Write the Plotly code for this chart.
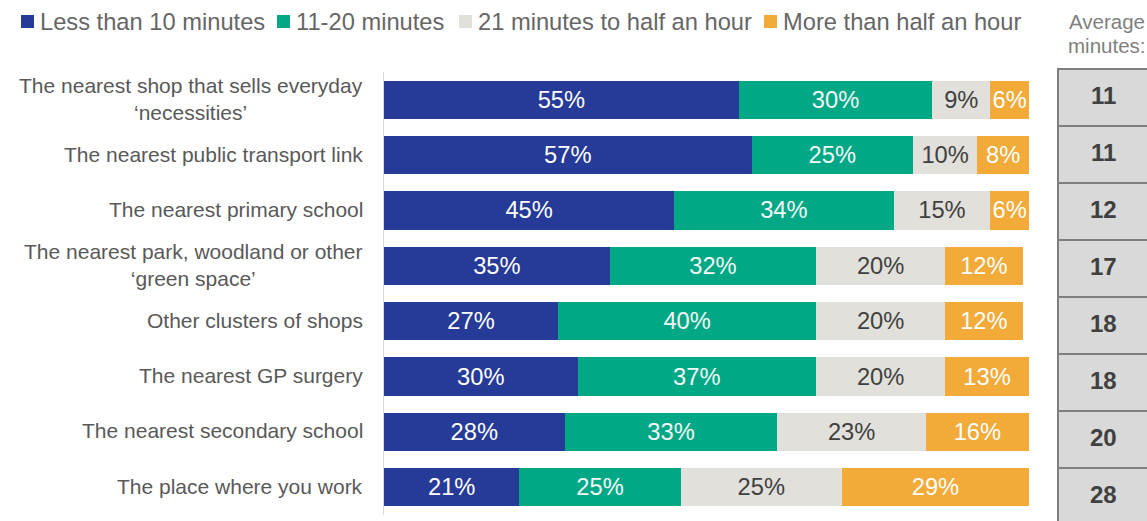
import plotly.graph_objects as go

# Destinations (top to bottom)
categories = [
    "The nearest shop that sells everyday<br>‘necessities’",
    "The nearest public transport link",
    "The nearest primary school",
    "The nearest park, woodland or other<br>‘green space’",
    "Other clusters of shops",
    "The nearest GP surgery",
    "The nearest secondary school",
    "The place where you work",
]

series_names = [
    "Less than 10 minutes",
    "11-20 minutes",
    "21 minutes to half an hour",
    "More than half an hour",
]

less_than_10 = [55, 57, 45, 35, 27, 30, 28, 21]
min_11_20 = [30, 25, 34, 32, 40, 37, 33, 25]
min_21_30 = [9, 10, 15, 20, 20, 20, 23, 25]
more_than_30 = [6, 8, 6, 12, 12, 13, 16, 29]

average_minutes = [11, 11, 12, 17, 18, 18, 20, 28]

series_values = [less_than_10, min_11_20, min_21_30, more_than_30]
colors = ["#263a97", "#00a886", "#e1e0da", "#f2aa38"]
text_colors = ["#ffffff", "#f4f8f7", "#404040", "#ffffff"]

FONT = "Liberation Sans, Arial"
W, H = 1147, 521
M_L, M_R, M_T, M_B = 384, 118, 72, 6
PLOT_W = W - M_L - M_R
PLOT_H = H - M_T - M_B


def px_x(px):
    return (px - M_L) / PLOT_W


def px_y(py):
    return (H - M_B - py) / PLOT_H


fig = go.Figure()
for name, vals, col, tcol in zip(series_names, series_values, colors, text_colors):
    fig.add_trace(go.Bar(
        y=categories,
        x=vals,
        name=name,
        orientation="h",
        marker=dict(color=col, line=dict(width=0)),
        text=[f"{v}%" for v in vals],
        textposition="inside",
        insidetextanchor="middle",
        textangle=0,
        textfont=dict(color=tcol, size=23.7, family=FONT),
        showlegend=False,
        hoverinfo="skip",
    ))

annotations = []
shapes = []

# Category labels: lines centred within the block, block right-aligned to the axis
for cat in categories:
    annotations.append(dict(
        x=0, xref="paper", y=cat, yref="y",
        xanchor="right", yanchor="middle", xshift=-19, yshift=1,
        text=cat, align="center", showarrow=False,
        font=dict(size=21, color="#595959", family=FONT),
    ))

# Custom legend row along the top
legend_x = [21, 277, 459, 764]
for name, col, lx in zip(series_names, colors, legend_x):
    shapes.append(dict(
        type="rect", xref="paper", yref="paper",
        x0=px_x(lx), x1=px_x(lx + 13), y0=px_y(28), y1=px_y(15),
        fillcolor=col, line=dict(width=0),
    ))
    annotations.append(dict(
        x=px_x(lx + 17), xref="paper", y=px_y(21.5), yref="paper",
        xanchor="left", yanchor="middle", text=name, showarrow=False,
        font=dict(size=23.7, color="#666666", family=FONT),
    ))

# Average minutes column
annotations.append(dict(
    x=px_x(1147), xref="paper", y=px_y(22), yref="paper",
    xanchor="right", yanchor="middle", text="Average", showarrow=False,
    font=dict(size=20.5, color="#7f7f7f", family=FONT),
))
annotations.append(dict(
    x=px_x(1147), xref="paper", y=px_y(46), yref="paper",
    xanchor="right", yanchor="middle", text="minutes:", showarrow=False,
    font=dict(size=20.5, color="#7f7f7f", family=FONT),
))

CELL_TOP, CELL_H = 69, 57
for i, avg in enumerate(average_minutes):
    top = CELL_TOP + i * CELL_H
    shapes.append(dict(
        type="rect", xref="paper", yref="paper",
        x0=px_x(1058), x1=px_x(1160), y0=px_y(top + CELL_H), y1=px_y(top),
        fillcolor="#d9d9d9", line=dict(color="#7f7f7f", width=2),
        layer="below",
    ))
    annotations.append(dict(
        x=px_x(1103), xref="paper", y=px_y(top + CELL_H / 2 - 2), yref="paper",
        xanchor="center", yanchor="middle", text=f"<b>{avg}</b>", showarrow=False,
        font=dict(size=24, color="#404040", family=FONT),
    ))

fig.update_layout(
    barmode="stack",
    bargap=0.31,
    width=W, height=H,
    margin=dict(l=M_L, r=M_R, t=M_T, b=M_B, pad=0),
    paper_bgcolor="white", plot_bgcolor="white",
    uniformtext=dict(minsize=23.7, mode="show"),
    xaxis=dict(range=[0, 100], visible=False, fixedrange=True),
    yaxis=dict(
        autorange="reversed", showticklabels=False, ticks="",
        showline=True, linecolor="#d9d9d9", linewidth=1, showgrid=False,
        zeroline=False,
    ),
    annotations=annotations,
    shapes=shapes,
    font=dict(family=FONT),
)

fig.write_html("out.html")
